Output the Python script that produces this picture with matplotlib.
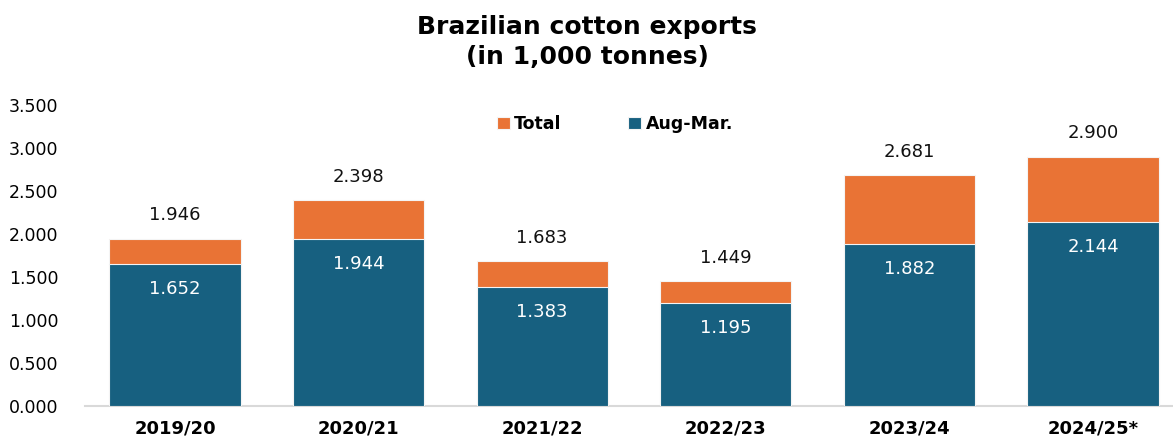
import matplotlib
matplotlib.use("Agg")
import matplotlib.pyplot as plt
from matplotlib.ticker import FuncFormatter

# data in 1,000 tonnes
seasons = ["2019/20", "2020/21", "2021/22", "2022/23", "2023/24", "2024/25*"]
total = [1946, 2398, 1683, 1449, 2681, 2900]
aug_mar = [1652, 1944, 1383, 1195, 1882, 2144]

ORANGE = "#E97335"
BLUE = "#176080"


def dot_fmt(v):
    # 1946 -> "1.946"
    return f"{v / 1000:.3f}"


plt.rcParams["font.family"] = ["DejaVu Sans"]

fig = plt.figure(figsize=(11.73, 4.41), dpi=100)
ax = fig.add_axes([85 / 1173, 35 / 441, 1088 / 1173, 301 / 441])

x = range(len(seasons))
width = 0.715
ax.bar(x, total, width, color=ORANGE, edgecolor="#f4f4f4", linewidth=0.8, label="Total", zorder=2)
ax.bar(x, aug_mar, width, color=BLUE, edgecolor="#f4f4f4", linewidth=0.8, label="Aug-Mar.", zorder=3)

for i in x:
    ax.text(i, total[i] + 270, dot_fmt(total[i]), ha="center", va="center",
            fontsize=13, color="#111111")
    ax.text(i, aug_mar[i] - 290, dot_fmt(aug_mar[i]), ha="center", va="center",
            fontsize=13, color="white")

ax.set_ylim(0, 3500)
ax.set_xlim(-0.49, 5.436)
ax.set_yticks(range(0, 3501, 500))
ax.yaxis.set_major_formatter(FuncFormatter(lambda v, p: dot_fmt(v)))
ax.set_xticks(list(x))
ax.set_xticklabels(seasons, fontsize=13, fontweight="bold")
ax.tick_params(axis="y", labelsize=12.5, length=0, pad=19)
ax.tick_params(axis="x", length=0, pad=10)

for s in ["top", "right", "left"]:
    ax.spines[s].set_visible(False)
ax.spines["bottom"].set_color("#D9D9D9")
ax.spines["bottom"].set_linewidth(1.5)

ax.legend(loc="center left", bbox_to_anchor=(0.364, 0.937), ncol=2, frameon=False,
          prop={"size": 12.5, "weight": "bold"}, handlelength=0.75, handleheight=0.75,
          handletextpad=0.25, columnspacing=3.85)

fig.text(587 / 1173, 1 - 42 / 441, "Brazilian cotton exports\n(in 1,000 tonnes)",
         ha="center", va="center", fontsize=18, fontweight="heavy", linespacing=1.3)

fig.savefig("out.png", dpi=100)
